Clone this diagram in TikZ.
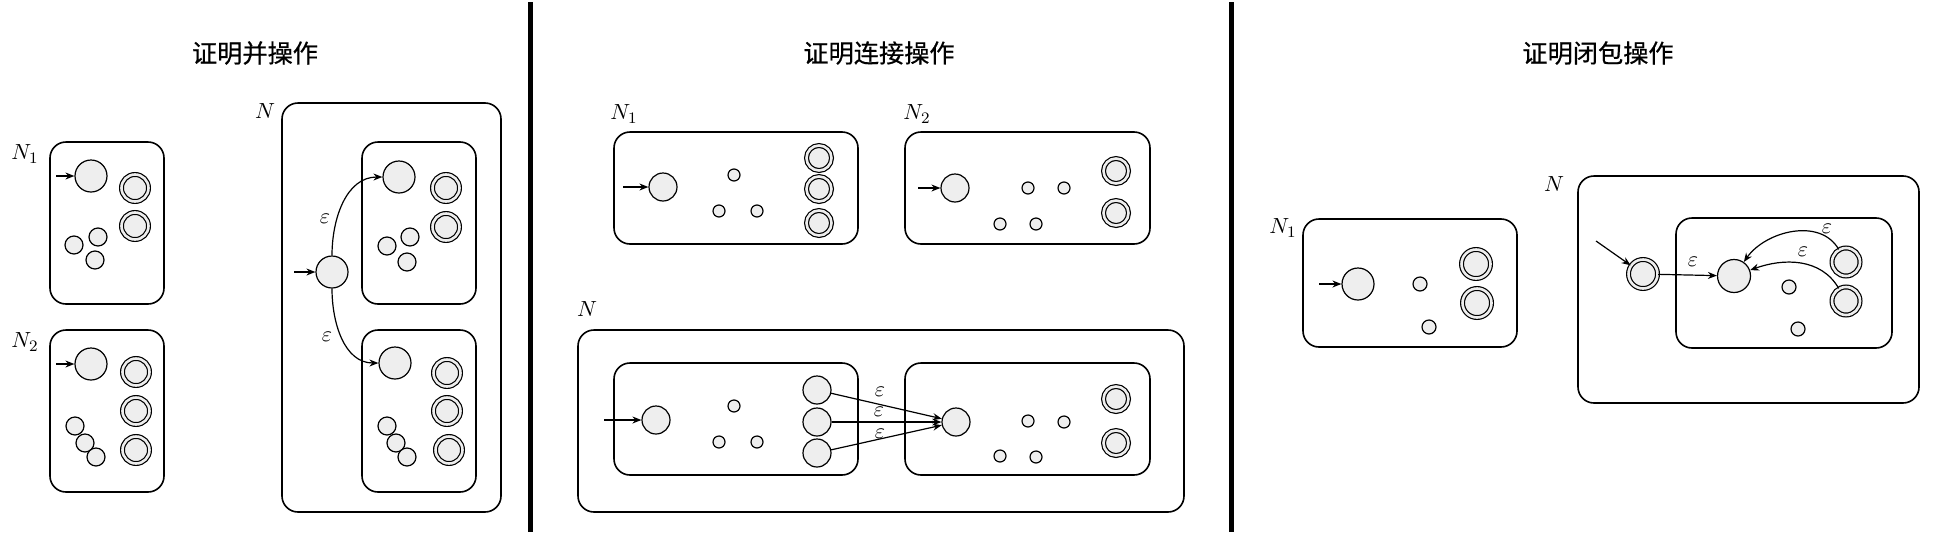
\documentclass[tikz,border=0pt]{standalone}
\usepackage{fontspec}
\newfontfamily\cjk[FakeBold=0.6]{Noto Sans CJK SC}
\usetikzlibrary{arrows.meta}
\definecolor{statefill}{HTML}{EEEEEE}

\tikzset{
  box/.style={draw, line width=0.8pt, rounded corners=8pt},
  st/.style={circle, draw, line width=0.6pt, fill=statefill, inner sep=0pt, minimum size=#1},
  acc/.style={st=#1-2.5pt, double=statefill, double distance=1.3pt},
  title/.style={font=\cjk\fontsize{12.6pt}{15pt}\selectfont},
  lab/.style={font=\fontsize{11pt}{13pt}\selectfont},
  eps/.style={font=\fontsize{11pt}{13pt}\selectfont}
}

\begin{document}
\begin{tikzpicture}[x=0.5pt, y=-0.5pt, >={Stealth[length=4.5pt,width=3.5pt]}, line width=0.6pt]
  \useasboundingbox (0,0) rectangle (1936,536);

  % Trennlinien
  \draw[line width=2.5pt] (530.5,2) -- (530.5,532);
  \draw[line width=2.5pt] (1231,2) -- (1231,532);

  % ---------- Vereinigung ----------
  \node[title] (t1) at (255,53) {证明并操作};

  % N1
  \node[lab] (l1) at (25,154) {$N_1$};
  \draw[box] (50,142) rectangle (164,304);
  \node[st=16pt] (a0) at (91,176) {};
  \node[acc=16pt] (a1) at (135,188) {};
  \node[acc=16pt] (a2) at (135,226) {};
  \node[st=9pt] (a3) at (74,245) {};
  \node[st=9pt] (a4) at (98,237) {};
  \node[st=9pt] (a5) at (95,260) {};
  \coordinate (ai) at (56,176);
  \draw[->] (ai) -- (a0);

  % N2
  \node[lab] (l2) at (25,342) {$N_2$};
  \draw[box] (50,330) rectangle (164,492);
  \node[st=16pt] (b0) at (91,364) {};
  \node[acc=16pt] (b1) at (136,372) {};
  \node[acc=16pt] (b2) at (136,411) {};
  \node[acc=16pt] (b3) at (136,450) {};
  \node[st=9pt] (b4) at (75,426) {};
  \node[st=9pt] (b5) at (85,443) {};
  \node[st=9pt] (b6) at (96,457) {};
  \coordinate (bi) at (56,364);
  \draw[->] (bi) -- (b0);

  % N
  \node[lab] (l3) at (265,111) {$N$};
  \draw[box] (282,103) rectangle (501,512);
  \draw[box] (362,142) rectangle (476,304);
  \draw[box] (362,330) rectangle (476,492);
  \node[st=16pt] (c0) at (332,272) {};
  \coordinate (ci) at (294,272);
  \draw[->] (ci) -- (c0);
  \node[st=16pt] (c1) at (399,177) {};
  \node[acc=16pt] (c2) at (446,188) {};
  \node[acc=16pt] (c3) at (446,227) {};
  \node[st=9pt] (c4) at (387,246) {};
  \node[st=9pt] (c5) at (410,237) {};
  \node[st=9pt] (c6) at (407,262) {};
  \node[st=16pt] (c7) at (395,363) {};
  \node[acc=16pt] (c8) at (447,373) {};
  \node[acc=16pt] (c9) at (447,411) {};
  \node[acc=16pt] (c10) at (449,450) {};
  \node[st=9pt] (c11) at (387,426) {};
  \node[st=9pt] (c12) at (396,443) {};
  \node[st=9pt] (c13) at (407,457) {};
  \draw[->] (c0) to[out=90, in=180] (c1);
  \draw[->] (c0) to[out=-90, in=180] (c7);
  \node[eps] (e1) at (325,219) {$\varepsilon$};
  \node[eps] (e2) at (327,337) {$\varepsilon$};

  % ---------- Verkettung ----------
  \node[title] (t2) at (879,53) {证明连接操作};

  % N1
  \node[lab] (l4) at (624,114) {$N_1$};
  \draw[box] (614,132) rectangle (858,244);
  \node[st=14pt] (d0) at (663,187) {};
  \node[st=6pt] (d1) at (734,175) {};
  \node[st=6pt] (d2) at (719,211) {};
  \node[st=6pt] (d3) at (757,211) {};
  \node[acc=15pt] (d4) at (819,158) {};
  \node[acc=15pt] (d5) at (819,189) {};
  \node[acc=15pt] (d6) at (819,223) {};
  \coordinate (di) at (623,187);
  \draw[->] (di) -- (d0);

  % N2
  \node[lab] (l5) at (917,114) {$N_2$};
  \draw[box] (905,132) rectangle (1150,244);
  \node[st=14pt] (g0) at (955,188) {};
  \node[st=6pt] (g1) at (1028,188) {};
  \node[st=6pt] (g2) at (1064,188) {};
  \node[st=6pt] (g3) at (1000,224) {};
  \node[st=6pt] (g4) at (1036,224) {};
  \node[acc=15pt] (g5) at (1116,171) {};
  \node[acc=15pt] (g6) at (1116,213) {};
  \coordinate (gi) at (918,188);
  \draw[->] (gi) -- (g0);

  % N
  \node[lab] (l6) at (587,309) {$N$};
  \draw[box] (578,330) rectangle (1184,512);
  \draw[box] (614,363) rectangle (858,475);
  \draw[box] (905,363) rectangle (1150,475);
  \node[st=14pt] (h0) at (656,420) {};
  \coordinate (hi) at (604,420);
  \draw[->] (hi) -- (h0);
  \node[st=6pt] (h1) at (734,406) {};
  \node[st=6pt] (h2) at (719,442) {};
  \node[st=6pt] (h3) at (757,442) {};
  \node[st=14pt] (f1) at (817,390) {};
  \node[st=14pt] (f2) at (817,422) {};
  \node[st=14pt] (f3) at (817,453) {};
  \node[st=14pt] (k0) at (956,422) {};
  \node[st=6pt] (k1) at (1028,421) {};
  \node[st=6pt] (k2) at (1064,422) {};
  \node[st=6pt] (k3) at (1000,456) {};
  \node[st=6pt] (k4) at (1036,457) {};
  \node[acc=15pt] (k5) at (1116,399) {};
  \node[acc=15pt] (k6) at (1116,443) {};
  \draw[->] (f1) -- (k0);
  \draw[->] (f2) -- (k0);
  \draw[->] (f3) -- (k0);
  \node[eps] (e3) at (880,392) {$\varepsilon$};
  \node[eps] (e4) at (879,412) {$\varepsilon$};
  \node[eps] (e5) at (880,434) {$\varepsilon$};

  % ---------- Stern ----------
  \node[title] (t3) at (1598,53) {证明闭包操作};

  % N1
  \node[lab] (l7) at (1283,228) {$N_1$};
  \draw[box] (1303,219) rectangle (1517,347);
  \node[st=16pt] (m0) at (1358,284) {};
  \node[st=7pt] (m1) at (1420,284) {};
  \node[st=7pt] (m2) at (1429,327) {};
  \node[acc=17pt] (m3) at (1476,264) {};
  \node[acc=17pt] (m4) at (1477,303) {};
  \coordinate (mi) at (1319,284);
  \draw[->] (mi) -- (m0);

  % N
  \node[lab] (l8) at (1554,184) {$N$};
  \draw[box] (1578,176) rectangle (1919,403);
  \draw[box] (1676,218) rectangle (1892,348);
  \node[acc=17pt] (n0) at (1643,274) {};
  \coordinate (ni) at (1596,241);
  \draw[->] (ni) -- (n0);
  \node[st=16.5pt] (n1) at (1734,276) {};
  \node[st=7pt] (n2) at (1789,287) {};
  \node[st=7pt] (n3) at (1798,329) {};
  \node[acc=16.5pt] (n4) at (1846,262) {};
  \node[acc=16.5pt] (n5) at (1846,301) {};
  \draw[->] (n0) -- (n1);
  \draw[->] (n4) to[out=120, in=55] (n1);
  \draw[->] (n5) to[out=120, in=20] (n1);
  \node[eps] (e6) at (1693,262) {$\varepsilon$};
  \node[eps] (e7) at (1827,229) {$\varepsilon$};
  \node[eps] (e8) at (1803,252) {$\varepsilon$};

\end{tikzpicture}
\end{document}
